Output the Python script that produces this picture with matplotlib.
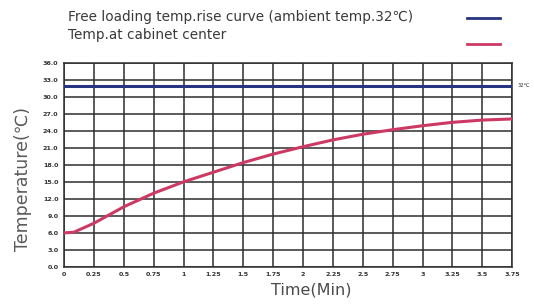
import matplotlib.pyplot as plt
from matplotlib.lines import Line2D

# values
time_min = [0, 0.08, 0.25, 0.5, 0.75, 1.0, 1.25, 1.5, 1.75, 2.0,
            2.25, 2.5, 2.75, 3.0, 3.25, 3.5, 3.75]
cabinet_temp = [6.0, 6.1, 7.7, 10.6, 13.0, 15.0, 16.7, 18.4, 19.9, 21.2,
                22.4, 23.4, 24.2, 24.9, 25.5, 25.9, 26.1]
ambient_temp = 32.0
x_ticks = [0, 0.25, 0.5, 0.75, 1, 1.25, 1.5, 1.75, 2, 2.25, 2.5, 2.75, 3, 3.25, 3.5, 3.75]
x_labels = ['0', '0.25', '0.5', '0.75', '1', '1.25', '1.5', '1.75', '2',
            '2.25', '2.5', '2.75', '3', '3.25', '3.5', '3.75']
y_ticks = [0, 3, 6, 9, 12, 15, 18, 21, 24, 27, 30, 33, 36]

blue = '#273580'
pink = '#cc3a64'
gridc = '#2e2e2e'

fig = plt.figure(figsize=(5.34, 3.05), dpi=100)
ax = fig.add_axes([0.12, 0.125, 0.839, 0.669])

ax.axhline(ambient_temp, color=blue, lw=2.2, zorder=3)
ax.plot(time_min, cabinet_temp, color=pink, lw=2.2, zorder=3,
        solid_capstyle='round')

ax.set_xlim(0, 3.75)
ax.set_ylim(0, 36)
ax.set_xticks(x_ticks)
ax.set_xticklabels(x_labels)
ax.set_yticks(y_ticks)
ax.set_yticklabels(['%.1f' % v for v in y_ticks])
ax.tick_params(length=0, labelsize=4.6, colors='#333333', pad=4)
for lab in ax.get_xticklabels() + ax.get_yticklabels():
    lab.set_fontweight('bold')
ax.grid(True, color=gridc, lw=1.1)
for s in ax.spines.values():
    s.set_color(gridc)
    s.set_linewidth(1.1)

ax.set_xlabel('Time(Min)', fontsize=11.5, color='#4a4a4a')
ax.xaxis.set_label_coords(0.552, -0.075)
ax.set_ylabel('Temperature(℃)', fontsize=12.5, color='#5a5a5a')
ax.yaxis.set_label_coords(-0.072, 0.43)

ax.text(1.012, ambient_temp, '32℃', transform=ax.get_yaxis_transform(),
        fontsize=3.8, color='#333333', va='center', ha='left')

# legend drawn by hand: text on the left, line samples on the right
fig.text(0.127, 0.945, 'Free loading temp.rise curve (ambient temp.32℃)',
         fontsize=9.8, color='#3a3a3a', va='center')
fig.text(0.127, 0.885, 'Temp.at cabinet center',
         fontsize=9.8, color='#3a3a3a', va='center')
fig.add_artist(Line2D([0.875, 0.937], [0.94, 0.94], color=blue, lw=2.0))
fig.add_artist(Line2D([0.875, 0.937], [0.856, 0.856], color=pink, lw=2.0))

fig.savefig('out.png', dpi=100)
